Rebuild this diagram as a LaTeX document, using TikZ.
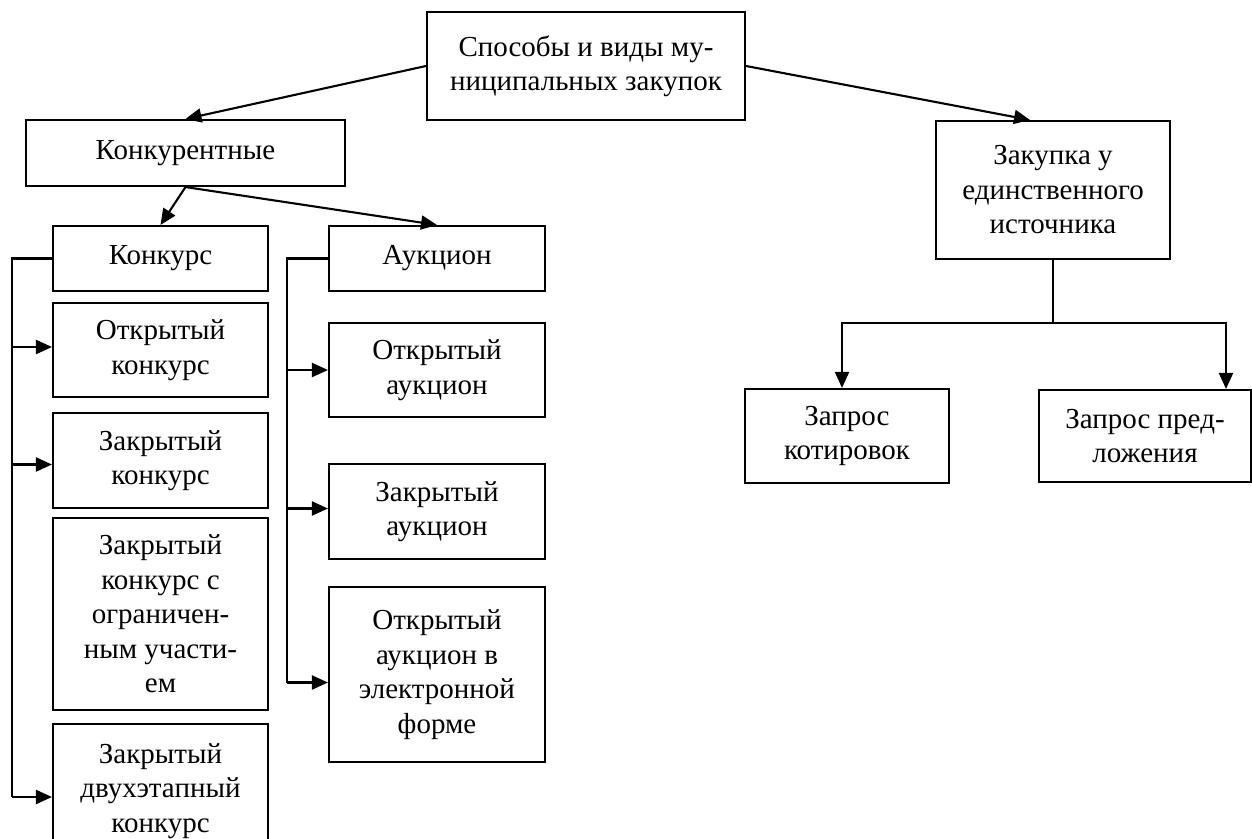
\documentclass[tikz,border=0pt]{standalone}
\usepackage{fontspec}
\setmainfont{Liberation Serif}
\usetikzlibrary{arrows.meta}
\begin{document}
\begin{tikzpicture}[x=1pt,y=-1pt,
  every node/.style={font=\fontsize{29}{34.5}\selectfont},
  box/.style={draw=black,line width=2.1pt,inner sep=0pt,align=center,fill=white},
  conn/.style={line width=2.1pt,black},
  arr/.style={conn,-{Triangle[length=16pt,width=14pt]}}]
\fill[white] (0,0) rectangle (1252,838);
\useasboundingbox (0,0) rectangle (1252,838);
% boxes
\node[box,minimum width=318pt,minimum height=108pt] (top) at (586,66) {Способы и виды му-\\ниципальных закупок};
\node[box,minimum width=319pt,minimum height=66pt] (konkurent) at (185.5,153) {Конкурентные};
\node[box,minimum width=234pt,minimum height=138pt] (zakupka) at (1053,190) {Закупка у\\единственного\\источника};
\node[box,minimum width=215pt,minimum height=65pt] (konkurs) at (160.5,258.5) {Конкурс};
\node[box,minimum width=216pt,minimum height=65pt] (auk) at (437,258.5) {Аукцион};
\node[box,minimum width=215pt,minimum height=94pt] (otk) at (160.5,350) {Открытый\\конкурс};
\node[box,minimum width=215pt,minimum height=95pt] (zak) at (160.5,460.5) {Закрытый\\конкурс};
\node[box,minimum width=215pt,minimum height=192pt] (ogr) at (160.5,614) {Закрытый\\конкурс с\\ограничен-\\ным участи-\\ем};
\node[box,minimum width=215pt,minimum height=134pt] (dvuh) at (160.5,791) {Закрытый\\двухэтапный\\конкурс};
\node[box,minimum width=216pt,minimum height=94pt] (otkauk) at (437,370) {Открытый\\аукцион};
\node[box,minimum width=216pt,minimum height=95pt] (zakauk) at (437,511.5) {Закрытый\\аукцион};
\node[box,minimum width=216pt,minimum height=175pt] (elauk) at (437,674.5) {Открытый\\аукцион в\\электронной\\форме};
\node[box,minimum width=204pt,minimum height=94pt] (kotir) at (847,436) {Запрос\\котировок};
\node[box,minimum width=212pt,minimum height=92pt] (predl) at (1145,436) {Запрос пред-\\ложения};
% top-level arrows
\draw[arr] (top.west) -- (konkurent.north);
\draw[arr] (top.east) -- ([xshift=-23pt]zakupka.north);
\draw[arr] (konkurent.south) -- (konkurs.north);
\draw[arr] (konkurent.south) -- (auk.north);
% left bracket (konkurs)
\coordinate (lb) at (12,0);
\coordinate (lend) at ([yshift=-6pt]dvuh.west);
\draw[conn] (konkurs.west) -- (konkurs.west -| lb) -- (lend -| lb);
\draw[arr] ([yshift=3pt]otk.west -| lb) -- ([yshift=3pt]otk.west);
\draw[arr] ([yshift=-4pt]zak.west -| lb) -- ([yshift=-4pt]zak.west);
\draw[arr] (lend -| lb) -- (lend);
% right bracket (auction)
\coordinate (ab) at (287,0);
\coordinate (aend) at ([yshift=-8pt]elauk.west);
\draw[conn] (auk.west) -- (auk.west -| ab) -- (aend -| ab);
\draw[arr] (otkauk.west -| ab) -- (otkauk.west);
\draw[arr] ([yshift=3pt]zakauk.west -| ab) -- ([yshift=3pt]zakauk.west);
\draw[arr] (aend -| ab) -- (aend);
% single source branch
\coordinate (rj) at (1053,323);
\coordinate (rl) at (842,323);
\coordinate (rr) at (1226,323);
\draw[conn] (zakupka.south) -- (rj);
\draw[arr] (rj) -- (rl) -- (rl |- kotir.north);
\draw[arr] (rj) -- (rr) -- (rr |- predl.north);
\end{tikzpicture}
\end{document}
